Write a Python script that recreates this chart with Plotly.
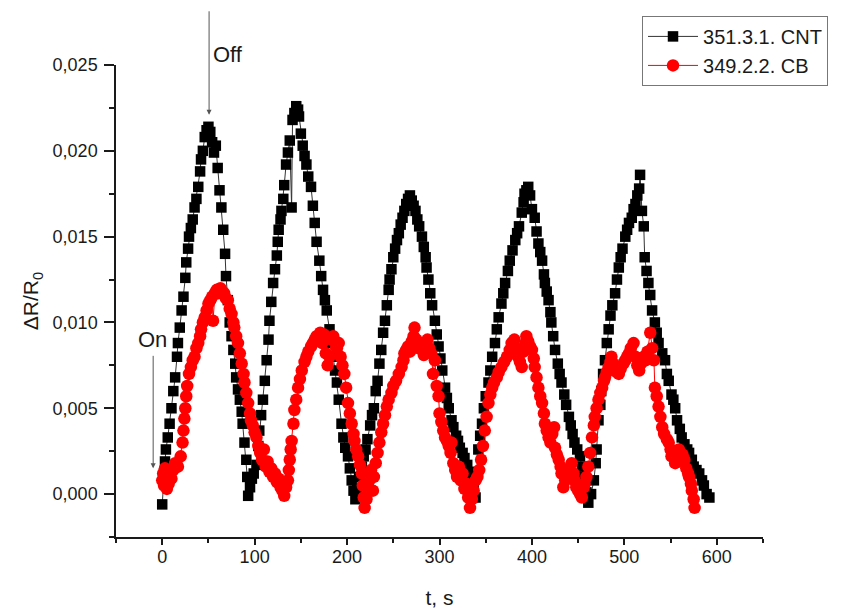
import plotly.graph_objects as go

# ---- data: 351.3.1. CNT (black squares) ----
cnt_t = [0, 2, 3, 4, 6, 8, 10, 12, 14, 16, 17, 19, 21, 23, 25, 26, 28, 29, 31, 33, 35, 37, 39, 41, 42, 44, 46, 48, 50, 52,
         54, 56, 58, 60, 62, 64, 66, 68, 69, 71, 73, 75, 77, 79, 80, 82, 84, 86, 87, 89, 91, 92, 93,
         95, 97, 99, 102, 104, 105, 107, 109, 111, 113, 115, 116, 118, 120, 122, 124, 125, 126, 128, 129, 131, 132, 134,
         136, 138, 140, 141, 143, 145, 147, 148, 150, 152, 154, 156, 158, 161, 163, 165, 167, 170, 172, 174, 176, 178,
         181, 183, 185, 187, 189, 191, 194, 196, 198, 201, 203, 205, 207, 209,
         211, 213, 216, 218, 220, 222, 225, 227, 229, 231, 233, 235, 237, 239, 241, 243, 245, 246, 248, 250, 252, 254,
         256, 258, 260, 262, 264, 266, 268, 270, 272, 274, 276, 278, 281, 283, 285, 286, 288, 290, 292, 295, 297, 299,
         301, 303, 306, 308, 310, 313, 315, 318, 320, 322, 325, 327, 330, 333, 335, 337, 339,
         341, 342, 344, 346, 348, 350, 353, 355, 357, 360, 362, 364, 367, 369, 371, 374, 376, 379, 382, 384, 386, 389,
         391, 392, 394, 396, 398, 400, 403, 405, 407, 409, 411, 413, 414, 416, 418, 420, 421, 423, 425, 428, 430, 432,
         435, 437, 440, 442, 444, 446, 449, 452, 454, 456, 457, 459, 461,
         464, 467, 469, 470, 472, 474, 475, 477, 479, 481, 483, 485, 487, 490, 492, 494, 496, 498, 501, 503, 505, 508,
         510, 512, 514, 516, 517, 519, 521, 522, 524, 526, 528, 530, 533, 535, 537, 541, 544, 546, 548, 551, 553, 555,
         557, 560, 562, 565, 568, 570, 573, 575, 578, 581, 584, 586, 589, 592]
cnt_v = [-0.0006, 0.0012, 0.0019, 0.0026, 0.0033, 0.0041, 0.0050, 0.0060, 0.0068, 0.0080, 0.0088, 0.0097, 0.0107,
         0.0115, 0.0126, 0.0135, 0.0143, 0.0150, 0.0155, 0.0160, 0.0167, 0.0172, 0.0179, 0.0188, 0.0195, 0.0200,
         0.0208, 0.0212, 0.0214, 0.0211, 0.0205, 0.0199, 0.0203, 0.0190, 0.0177, 0.0167, 0.0154, 0.0140, 0.0127,
         0.0113, 0.0100, 0.0092, 0.0084, 0.0076, 0.0068, 0.0061, 0.0055, 0.0048, 0.0041, 0.0030, 0.0020, 0.0010,
         -0.0001,
         0.0004, 0.0009, 0.0012, 0.0017, 0.0028, 0.0037, 0.0046, 0.0055, 0.0066, 0.0078, 0.0090, 0.0101, 0.0112,
         0.0123, 0.0131, 0.0139, 0.0147, 0.0154, 0.0160, 0.0165, 0.0172, 0.0180, 0.0192, 0.0199, 0.0206, 0.0167,
         0.0218, 0.0222, 0.0226, 0.0224, 0.0220, 0.0210, 0.0203, 0.0197, 0.0192, 0.0185, 0.0179, 0.0168, 0.0158,
         0.0147, 0.0136, 0.0127, 0.0119, 0.0113, 0.0107, 0.0096, 0.0088, 0.0080, 0.0072, 0.0065, 0.0055, 0.0041,
         0.0033, 0.0027, 0.0022, 0.0015, 0.0008, 0.0002, -0.0003,
         0.0003, 0.0010, 0.0016, 0.0022, 0.0026, 0.0032, 0.0040, 0.0046, 0.0050, 0.0060, 0.0066, 0.0076, 0.0084,
         0.0094, 0.0101, 0.0110, 0.0119, 0.0125, 0.0131, 0.0138, 0.0143, 0.0148, 0.0152, 0.0157, 0.0161, 0.0165,
         0.0169, 0.0172, 0.0174, 0.0171, 0.0168, 0.0165, 0.0160, 0.0156, 0.0150, 0.0144, 0.0138, 0.0132, 0.0125,
         0.0117, 0.0110, 0.0101, 0.0093, 0.0086, 0.0079, 0.0072, 0.0062, 0.0056, 0.0050, 0.0043, 0.0039, 0.0034,
         0.0031, 0.0027, 0.0024, 0.0021, 0.0017, 0.0013, 0.0009, 0.0004, -0.0002,
         0.0012, 0.0026, 0.0034, 0.0041, 0.0050, 0.0057, 0.0065, 0.0072, 0.0080, 0.0088, 0.0096, 0.0103, 0.0111,
         0.0117, 0.0123, 0.0130, 0.0136, 0.0142, 0.0148, 0.0152, 0.0156, 0.0164, 0.0170, 0.0175, 0.0177, 0.0179,
         0.0174, 0.0166, 0.0161, 0.0153, 0.0146, 0.0141, 0.0136, 0.0128, 0.0123, 0.0118, 0.0113, 0.0106, 0.0100,
         0.0092, 0.0084, 0.0076, 0.0070, 0.0065, 0.0058, 0.0052, 0.0045, 0.0040, 0.0035, 0.0030, 0.0026, 0.0022,
         0.0016, 0.0010, 0.0006, 0.0001, -0.0005,
         0.0000, 0.0008, 0.0018, 0.0026, 0.0043, 0.0052, 0.0060, 0.0070, 0.0078, 0.0088, 0.0096, 0.0104, 0.0110,
         0.0117, 0.0125, 0.0132, 0.0138, 0.0143, 0.0150, 0.0154, 0.0158, 0.0161, 0.0166, 0.0169, 0.0174, 0.0178,
         0.0186, 0.0165, 0.0156, 0.0138, 0.0130, 0.0123, 0.0116, 0.0107, 0.0100, 0.0094, 0.0088, 0.0082, 0.0078,
         0.0070, 0.0066, 0.0058, 0.0055, 0.0050, 0.0043, 0.0038, 0.0033, 0.0029, 0.0026, 0.0024, 0.0020, 0.0016,
         0.0014, 0.0012, 0.0008, 0.0005, 0.0000, -0.0002]

# ---- data: 349.2.2. CB (red circles) ----
cb_t = [0, 1, 2, 3, 4, 5, 6, 7, 8, 10, 12, 14, 16, 17, 20, 22, 23, 24, 25, 26, 27, 29, 31, 33, 35, 37, 39, 41, 42, 44,
        46, 48, 50, 52, 54, 55, 57, 59, 61, 63, 65, 67, 69, 71, 73, 75, 77, 78, 80, 82, 84, 86, 88, 89, 91, 93, 95, 96,
        98, 100, 102, 104, 106, 108, 110, 112, 114, 116, 118, 120, 122, 124, 126, 128, 130, 132, 134, 136, 137, 138,
        139, 140, 142, 143, 145, 147, 149, 151, 154, 156, 158, 161, 163, 165, 167, 169, 171, 173, 175, 177, 179, 181,
        183, 185, 187, 189, 191, 193, 195, 197, 199, 201, 203, 205, 207, 208, 210, 212, 214, 216, 217, 218, 219, 221,
        223, 224, 226, 228, 229, 231, 233, 235, 237, 239, 241, 243, 245, 248, 250, 253, 256, 259, 261, 262, 264, 266,
        268, 270, 272, 273, 275, 277, 279, 281, 283, 285, 287, 289, 291, 293, 295, 297, 299, 300, 302, 304, 306, 308,
        310, 312, 313, 315, 317, 319, 321, 323, 325, 327, 329, 331, 333, 335, 337, 339, 341, 343, 345, 347, 349, 351,
        353, 355, 357, 359, 362, 364, 367, 370, 373, 376, 378, 381, 383, 385, 387, 389, 391, 393, 394, 396, 398, 400,
        402, 403, 405, 407, 409, 411, 413, 414, 416, 418, 420, 422, 424, 425, 427, 429, 431, 432, 434, 436, 438, 440,
        443, 445, 446, 448, 450, 452, 454, 456, 457, 459, 461, 463, 465, 467, 468, 470, 472, 474, 476, 478, 479, 481,
        483, 485, 486, 488, 490, 492, 494, 496, 499, 501, 503, 505, 507, 510, 512, 514, 516, 518, 521, 523, 525, 528,
        530, 532, 533, 535, 537, 539, 541, 543, 546, 548, 550, 551, 553, 555, 557, 559, 561, 563, 565, 567, 569, 570,
        572, 573, 575, 576]
cb_v = [0.0008, 0.0012, 0.0005, 0.0015, 0.0010, 0.0003, 0.0011, 0.0006, 0.0013, 0.0009, 0.0014, 0.0018, 0.0016,
        0.0016, 0.0022, 0.0030, 0.0037, 0.0044, 0.0050, 0.0057, 0.0063, 0.0070, 0.0074, 0.0078, 0.0080, 0.0085,
        0.0088, 0.0092, 0.0096, 0.0100, 0.0103, 0.0107, 0.0111, 0.0113, 0.0115, 0.0101, 0.0117, 0.0119, 0.0117,
        0.0120, 0.0118, 0.0117, 0.0114, 0.0113, 0.0108, 0.0105, 0.0100, 0.0097, 0.0092, 0.0088, 0.0082, 0.0076,
        0.0070, 0.0065, 0.0059, 0.0053, 0.0047, 0.0043, 0.0040, 0.0036, 0.0033, 0.0028, 0.0024, 0.0020, 0.0026,
        0.0016, 0.0019, 0.0013, 0.0015, 0.0010, 0.0012, 0.0007, 0.0009, 0.0004, 0.0002, -0.0001, 0.0004, 0.0008,
        0.0014, 0.0020, 0.0026, 0.0031, 0.0041, 0.0049, 0.0055, 0.0062, 0.0067, 0.0072, 0.0077, 0.0080, 0.0083,
        0.0086, 0.0088, 0.0090, 0.0092, 0.0091, 0.0094, 0.0088, 0.0093, 0.0082, 0.0075, 0.0080, 0.0090, 0.0092,
        0.0089, 0.0085, 0.0088, 0.0080, 0.0075, 0.0070, 0.0062, 0.0053, 0.0047, 0.0041, 0.0035, 0.0031, 0.0026,
        0.0022, 0.0017, 0.0012, 0.0005, -0.0002, -0.0008, -0.0003, 0.0003, 0.0008, 0.0014, 0.0002, 0.0010, 0.0018,
        0.0024, 0.0030, 0.0036, 0.0041, 0.0046, 0.0051, 0.0055, 0.0059, 0.0063, 0.0066, 0.0070, 0.0074, 0.0078,
        0.0082, 0.0084, 0.0086, 0.0083, 0.0089, 0.0092, 0.0097, 0.0090, 0.0085, 0.0088, 0.0086, 0.0081, 0.0088,
        0.0090, 0.0085, 0.0082, 0.0070, 0.0078, 0.0063, 0.0057, 0.0047, 0.0042, 0.0037, 0.0033, 0.0031, 0.0028,
        0.0024, 0.0030, 0.0018, 0.0014, 0.0010, 0.0016, 0.0008, 0.0012, 0.0003, 0.0006, -0.0002, -0.0008, -0.0003,
        0.0002, 0.0008, 0.0010, 0.0014, 0.0020, 0.0028, 0.0037, 0.0045, 0.0053, 0.0058, 0.0062, 0.0065, 0.0068,
        0.0071, 0.0074, 0.0077, 0.0080, 0.0084, 0.0088, 0.0090, 0.0085, 0.0080, 0.0077, 0.0074, 0.0083, 0.0088,
        0.0092, 0.0089, 0.0086, 0.0084, 0.0079, 0.0074, 0.0068, 0.0062, 0.0057, 0.0053, 0.0047, 0.0041, 0.0037,
        0.0033, 0.0030, 0.0035, 0.0039, 0.0027, 0.0023, 0.0020, 0.0016, 0.0012, 0.0004, 0.0008, 0.0014, 0.0010,
        0.0018, 0.0012, 0.0008, 0.0004, 0.0002, 0.0000, -0.0002, 0.0004, 0.0006, 0.0010, 0.0016, 0.0024, 0.0033,
        0.0040, 0.0045, 0.0050, 0.0055, 0.0059, 0.0062, 0.0066, 0.0068, 0.0071, 0.0074, 0.0077, 0.0080, 0.0076,
        0.0073, 0.0071, 0.0070, 0.0073, 0.0076, 0.0078, 0.0080, 0.0082, 0.0085, 0.0088, 0.0080, 0.0075, 0.0072,
        0.0076, 0.0080, 0.0078, 0.0083, 0.0094, 0.0085, 0.0078, 0.0062, 0.0057, 0.0051, 0.0045, 0.0039, 0.0035,
        0.0032, 0.0030, 0.0026, 0.0022, 0.0024, 0.0018, 0.0021, 0.0026, 0.0019, 0.0023, 0.0020, 0.0015, 0.0012,
        0.0010, 0.0006, 0.0002, -0.0003, -0.0008]

series_names = ["351.3.1. CNT", "349.2.2. CB"]
x_ticks = [0, 100, 200, 300, 400, 500, 600]
y_ticks = [0.000, 0.005, 0.010, 0.015, 0.020, 0.025]

FONT = "Liberation Sans, Arial, sans-serif"
TXT = "#1a1a1a"

fig = go.Figure()
fig.add_trace(go.Scatter(
    x=cnt_t, y=cnt_v, name=series_names[0], mode="lines+markers",
    line=dict(color="#333333", width=1),
    marker=dict(symbol="square", size=10.5, color="black", line=dict(width=0)),
    cliponaxis=False,
))
fig.add_trace(go.Scatter(
    x=cb_t, y=cb_v, name=series_names[1], mode="lines+markers",
    line=dict(color="#ff0000", width=1),
    marker=dict(symbol="circle", size=12.5, color="#ff0000", line=dict(width=0)),
    cliponaxis=False,
))

axis_common = dict(
    showline=True, linecolor=TXT, linewidth=1.5, mirror=False,
    ticks="outside", tickwidth=1.5, tickcolor=TXT,
    showgrid=False, zeroline=False,
    tickfont=dict(family=FONT, size=18, color=TXT),
)

# the page body adds an 8 px offset, so the figure is sized / placed to compensate
fig.update_layout(
    width=838, height=601,
    paper_bgcolor="white", plot_bgcolor="white",
    margin=dict(l=108, r=83, t=57, b=72, autoexpand=False),
    separators=",.",
    font=dict(family=FONT, size=18, color=TXT),
    xaxis=dict(
        range=[-50, 650], tickvals=x_ticks, ticklen=6, ticklabelstandoff=-3,
        minor=dict(dtick=50, tick0=-50, ticks="outside", ticklen=4, tickwidth=1.5, tickcolor=TXT),
        title=dict(text="t, s", font=dict(family=FONT, size=21, color=TXT), standoff=28),
        **axis_common,
    ),
    yaxis=dict(
        range=[-0.0025, 0.025], tickvals=y_ticks, tickformat=".3f", ticklen=10, ticklabelstandoff=3,
        minor=dict(dtick=0.0025, tick0=0, ticks="outside", ticklen=5, tickwidth=1.5, tickcolor=TXT),
        title=dict(text="ΔR/R<sub>0</sub>", font=dict(family=FONT, size=21, color=TXT), standoff=8),
        **axis_common,
    ),
    legend=dict(
        x=0.813, y=1.104, xanchor="left", yanchor="top",
        bgcolor="white", bordercolor="#777777", borderwidth=1,
        font=dict(family=FONT, size=20, color=TXT),
        itemwidth=50, tracegroupgap=0,
    ),
    showlegend=True,
)

# Off / On annotations with arrows
fig.add_annotation(x=50.7, y=0.0221, xref="x", yref="y", text="", showarrow=True,
                   ax=0, ay=-105, arrowhead=2, arrowsize=1, arrowwidth=1, arrowcolor="#555555")
fig.add_annotation(x=71, y=1.0233, xref="x", yref="paper", text="Off", showarrow=False,
                   xanchor="center", yanchor="middle",
                   font=dict(family=FONT, size=22, color=TXT))
fig.add_annotation(x=-9.8, y=0.0015, xref="x", yref="y", text="", showarrow=True,
                   ax=0, ay=-114, arrowhead=2, arrowsize=1, arrowwidth=1, arrowcolor="#555555")
fig.add_annotation(x=-11, y=0.0090, xref="x", yref="y", text="On", showarrow=False,
                   xanchor="center", yanchor="middle",
                   font=dict(family=FONT, size=22, color=TXT))

fig.write_html("out.html")
